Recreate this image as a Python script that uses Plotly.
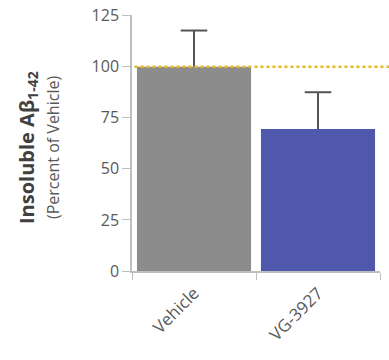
import plotly.graph_objects as go

categories = ["Vehicle", "VG-3927"]
values = [100, 69.5]
errors = [17.7, 18]
colors = ["#8C8C8C", "#5058AC"]
ytick_vals = [0, 25, 50, 75, 100, 125]
ref_value = 100

xpos = list(range(len(categories)))
tops = [v + e for v, e in zip(values, errors)]

fig = go.Figure()
fig.add_trace(go.Bar(
    x=xpos, y=values, marker=dict(color=colors, line=dict(width=0)),
    width=0.92,
    error_y=dict(type="data", array=errors, symmetric=False, arrayminus=[0, 0],
                 color="#555555", thickness=2, width=0),
    showlegend=False,
))
# error bar caps (top only)
fig.add_trace(go.Scatter(
    x=xpos, y=tops, mode="markers",
    marker=dict(symbol="line-ew", size=19, line=dict(color="#555555", width=2)),
    showlegend=False, hoverinfo="skip",
))
# invisible trace for boundary-tick axis
fig.add_trace(go.Scatter(x=[-0.5, 1.5], y=[0, 0], xaxis="x2", mode="markers",
                         marker=dict(opacity=0), showlegend=False, hoverinfo="skip"))

fig.add_shape(type="line", xref="paper", yref="y", x0=0.01, x1=1.04,
              y0=ref_value, y1=ref_value,
              line=dict(color="#E8B820", width=2.5, dash="dot"))

fig.update_layout(
    width=389, height=360,
    margin=dict(l=132, r=9, t=15, b=89),
    paper_bgcolor="white", plot_bgcolor="white",
    font=dict(family="Open Sans", color="#595959"),
    bargap=0.08,
    xaxis=dict(range=[-0.5, 1.5], tickvals=xpos, ticktext=categories,
               tickangle=-45, ticks="", showline=False, showgrid=False,
               zeroline=False, ticklabelstandoff=8, automargin=False,
               tickfont=dict(size=17, color="#595959")),
    xaxis2=dict(range=[-0.5, 1.5], overlaying="x", side="bottom",
                tickvals=[-0.5, 0.5, 1.5], ticks="outside", ticklen=7,
                tickcolor="#BFBFBF", showticklabels=False, showline=True,
                linecolor="#BFBFBF", linewidth=1.5, showgrid=False, zeroline=False,
                automargin=False),
    yaxis=dict(range=[0, 125.3], tickvals=ytick_vals, ticks="outside", ticklen=8,
               tickcolor="#BFBFBF", showline=True, linecolor="#BFBFBF", linewidth=1.5,
               showgrid=False, zeroline=False, automargin=False,
               tickfont=dict(size=16, color="#595959")),
)

fig.add_annotation(xref="paper", yref="paper", x=(27 - 132) / 248, y=(271 - 148) / 256,
                   text="<b>Insoluble Aβ<sub>1-42</sub></b>", textangle=-90,
                   showarrow=False, xanchor="center", yanchor="middle",
                   font=dict(size=20, color="#404040"))
fig.add_annotation(xref="paper", yref="paper", x=(53 - 132) / 248, y=(271 - 148) / 256,
                   text="(Percent of Vehicle)", textangle=-90,
                   showarrow=False, xanchor="center", yanchor="middle",
                   font=dict(size=16, color="#595959"))

fig.write_html("out.html")
